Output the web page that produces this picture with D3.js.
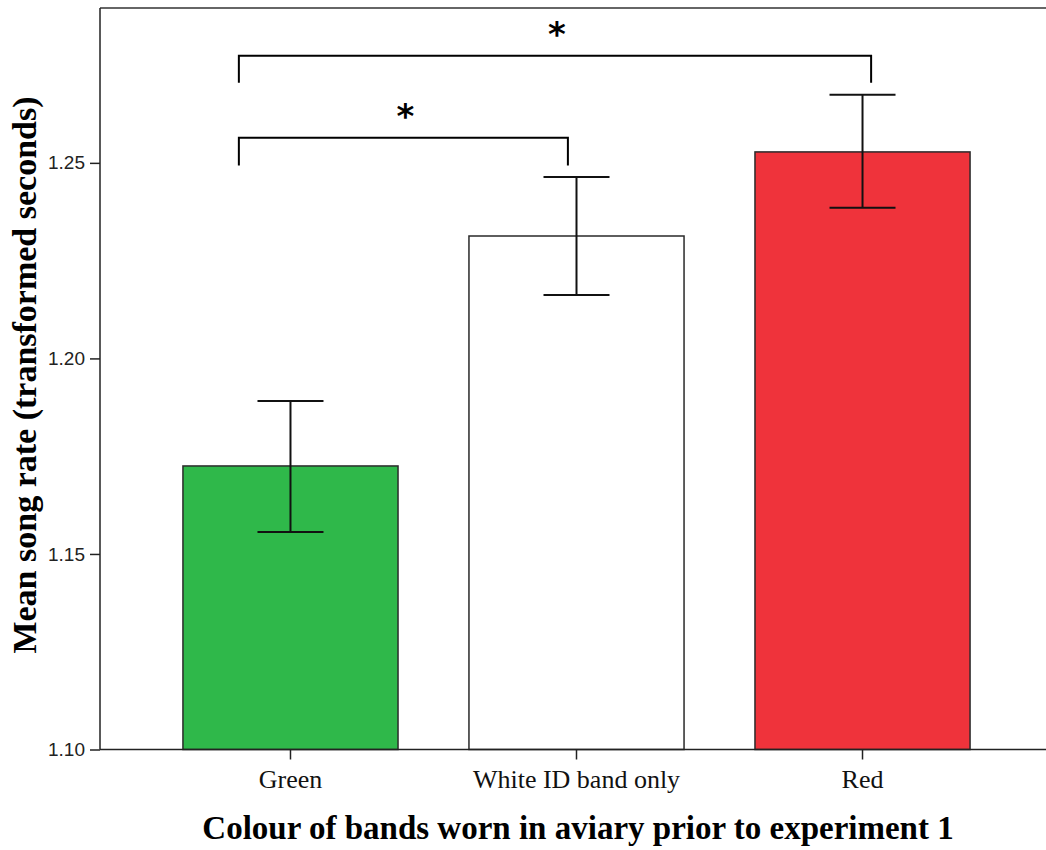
<!DOCTYPE html>
<html lang="en">
  <head>
    <meta charset="UTF-8" />
    <title>Mean song rate by band colour</title>
    <script src="https://cdn.jsdelivr.net/npm/d3@7"></script>
    <style>
      body { margin: 0; background: #fff; }
      svg { display: block; }
    </style>
  </head>
  <body>
    <div id="chart"></div>
    <script>
      // data
      var categories = ["Green", "White ID band only", "Red"];
      var means = [1.1725, 1.2313, 1.2528];
      var errLow = [1.1556, 1.2162, 1.2385];
      var errHigh = [1.1891, 1.2464, 1.2674];
      var barColors = ["#2fb84a", "#ffffff", "#ef333b"];
      var yTicks = [1.1, 1.15, 1.2, 1.25];

      // significance brackets: from/to category, leg offset (fraction of bar width), heights in y units
      var brackets = [
        { from: "Green", to: "White ID band only", fromOff: -0.24, toOff: -0.04, top: 1.2564, legEnd: 1.2493, label: "*" },
        { from: "Green", to: "Red", fromOff: -0.24, toOff: 0.04, top: 1.2774, legEnd: 1.2705, label: "*" }
      ];

      var width = 1046, height = 850;
      var plot = { left: 100, right: 1053, top: 8, bottom: 749.5 };
      var serif = "'Liberation Serif', 'Times New Roman', serif";

      var svg = d3.select("#chart").append("svg")
        .attr("width", width)
        .attr("height", height);

      var x = d3.scaleBand()
        .domain(categories)
        .range([plot.left, plot.right])
        .paddingInner(0.248)
        .paddingOuter(0.29);

      var y = d3.scaleLinear()
        .domain([1.1, 1.2896])
        .range([plot.bottom, plot.top]);

      // frame (top edge)
      svg.append("line")
        .attr("x1", plot.left).attr("x2", width)
        .attr("y1", plot.top).attr("y2", plot.top)
        .style("stroke", "#333").style("stroke-width", 1.5);

      // bars
      svg.selectAll(".bar")
        .data(categories)
        .enter()
        .append("rect")
        .attr("class", "bar")
        .attr("x", function(d) { return x(d); })
        .attr("width", x.bandwidth())
        .attr("y", function(d, i) { return y(means[i]); })
        .attr("height", function(d, i) { return plot.bottom - y(means[i]); })
        .style("fill", function(d, i) { return barColors[i]; })
        .style("stroke", "#2a2a2a")
        .style("stroke-width", 1.5);

      // error bars
      var capHalf = 33;
      var err = svg.append("g").style("stroke", "#111").style("stroke-width", 2);
      categories.forEach(function(c, i) {
        var cx = x(c) + x.bandwidth() / 2;
        err.append("line").attr("x1", cx).attr("x2", cx)
          .attr("y1", y(errLow[i])).attr("y2", y(errHigh[i]));
        err.append("line").attr("x1", cx - capHalf).attr("x2", cx + capHalf)
          .attr("y1", y(errLow[i])).attr("y2", y(errLow[i]));
        err.append("line").attr("x1", cx - capHalf).attr("x2", cx + capHalf)
          .attr("y1", y(errHigh[i])).attr("y2", y(errHigh[i]));
      });

      // axes
      var yAxis = svg.append("g")
        .attr("transform", "translate(" + plot.left + ",0)")
        .call(d3.axisLeft(y).tickValues(yTicks).tickFormat(d3.format(".2f")).tickSizeOuter(0).tickSize(10).tickPadding(5));
      yAxis.select(".domain").attr("d", "M0," + plot.bottom + "V" + plot.top);
      yAxis.selectAll("path, line").style("stroke", "#222").style("stroke-width", 1.5);
      yAxis.selectAll("text")
        .style("font-family", "'Liberation Sans', Arial, sans-serif")
        .style("font-size", "19px")
        .style("fill", "#222");

      var xAxis = svg.append("g")
        .attr("transform", "translate(0," + plot.bottom + ")")
        .call(d3.axisBottom(x).tickSizeOuter(0).tickSize(10).tickPadding(10));
      xAxis.select(".domain").attr("d", "M" + plot.left + ",0H" + width);
      xAxis.selectAll("path, line").style("stroke", "#222").style("stroke-width", 1.5);
      xAxis.selectAll("text")
        .style("font-family", serif)
        .style("font-size", "26px")
        .style("fill", "#111");

      // axis titles
      svg.append("text")
        .attr("transform", "translate(36,375) rotate(-90)")
        .attr("text-anchor", "middle")
        .style("font-family", serif)
        .style("font-weight", "bold")
        .style("font-size", "34px")
        .text("Mean song rate (transformed seconds)");

      svg.append("text")
        .attr("x", 578)
        .attr("y", 839)
        .attr("text-anchor", "middle")
        .style("font-family", serif)
        .style("font-weight", "bold")
        .style("font-size", "33px")
        .text("Colour of bands worn in aviary prior to experiment 1");

      // significance brackets
      var br = svg.append("g");
      brackets.forEach(function(b) {
        var x1 = x(b.from) + x.bandwidth() * (0.5 + b.fromOff);
        var x2 = x(b.to) + x.bandwidth() * (0.5 + b.toOff);
        br.append("path")
          .attr("d", "M" + x1 + "," + y(b.legEnd) + "V" + y(b.top) + "H" + x2 + "V" + y(b.legEnd))
          .style("fill", "none")
          .style("stroke", "#000")
          .style("stroke-width", 2);
        br.append("text")
          .attr("x", (x1 + x2) / 2 + 2)
          .attr("y", y(b.top) - 10)
          .attr("text-anchor", "middle")
          .style("font-family", "'DejaVu Sans', sans-serif")
          .style("font-weight", "bold")
          .style("font-size", "34px")
          .text(b.label);
      });
    </script>
  </body>
</html>
